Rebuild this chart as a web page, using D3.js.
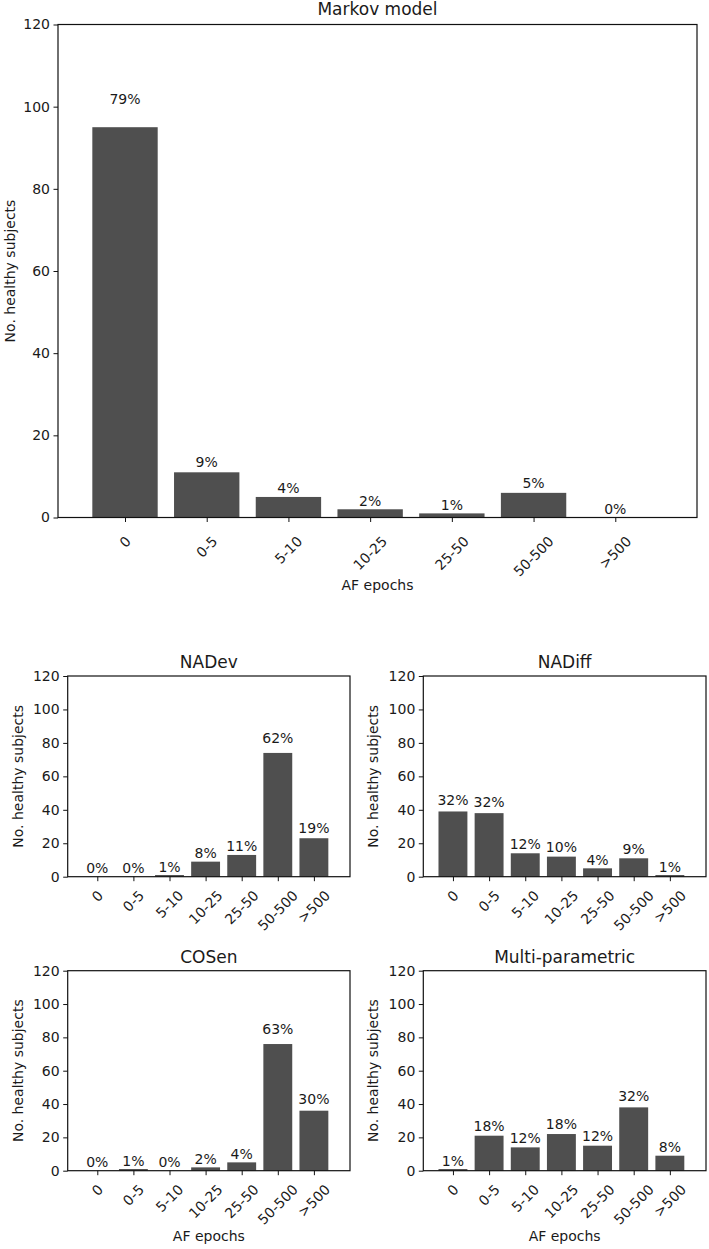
<!DOCTYPE html>
<html>
<head>
<meta charset="utf-8">
<script src="https://cdn.jsdelivr.net/npm/d3@7"></script>
<style>
  html, body { margin: 0; padding: 0; background: #fff; }
  svg { display: block; font-family: "DejaVu Sans", sans-serif; }
</style>
</head>
<body>
<svg id="chart" width="709" height="1249"></svg>
<script>
// ---- data ----
const categories = ["0", "0-5", "5-10", "10-25", "25-50", "50-500", ">500"];
const yTicks = [0, 20, 40, 60, 80, 100, 120];

const markovCounts = [95, 11, 5, 2, 1, 6, 0];
const markovPcts   = [79, 9, 4, 2, 1, 5, 0];

const nadevCounts = [0, 0, 1, 9, 13, 74, 23];
const nadevPcts   = [0, 0, 1, 8, 11, 62, 19];

const nadiffCounts = [39, 38, 14, 12, 5, 11, 1];
const nadiffPcts   = [32, 32, 12, 10, 4, 9, 1];

const cosenCounts = [0, 1, 0, 2, 5, 76, 36];
const cosenPcts   = [0, 1, 0, 2, 4, 63, 30];

const multiCounts = [1, 21, 14, 22, 15, 38, 9];
const multiPcts   = [1, 18, 12, 18, 12, 32, 8];

const titles = ["Markov model", "NADev", "NADiff", "COSen", "Multi-parametric"];
const yLabel = "No. healthy subjects";
const xLabel = "AF epochs";

// ---- layout ----
const panels = [
  { title: titles[0], counts: markovCounts, pcts: markovPcts,
    left: 58, right: 697, top: 24.5, bottom: 517.5,
    titleY: 15, ylabX: 10, xlabY: 590, showX: true, tickPad: 11 },
  { title: titles[1], counts: nadevCounts, pcts: nadevPcts,
    left: 67.7, right: 350, top: 676, bottom: 876.7,
    titleY: 668.3, ylabX: 18.3, showX: false, tickPad: 6 },
  { title: titles[2], counts: nadiffCounts, pcts: nadiffPcts,
    left: 423.3, right: 706, top: 676, bottom: 876.7,
    titleY: 668.3, ylabX: 373.3, showX: false, tickPad: 6 },
  { title: titles[3], counts: cosenCounts, pcts: cosenPcts,
    left: 67.7, right: 350, top: 970.7, bottom: 1170.7,
    titleY: 963.3, ylabX: 18.3, xlabY: 1240.5, showX: true, tickPad: 6 },
  { title: titles[4], counts: multiCounts, pcts: multiPcts,
    left: 423.3, right: 706, top: 970.7, bottom: 1170.7,
    titleY: 963.3, ylabX: 373.3, xlabY: 1240.5, showX: true, tickPad: 6 }
];

const svg = d3.select("#chart");
const txt = "#1a1a1a";
const barColor = "#4f4f4f";
const fs = 14;

panels.forEach(p => {
  const g = svg.append("g");
  const x = d3.scaleLinear().domain([-0.82, 7.0]).range([p.left, p.right]);
  const y = d3.scaleLinear().domain([0, 120]).range([p.bottom, p.top]);
  const bw = x(0.8) - x(0);

  // bars
  g.selectAll("rect.bar").data(p.counts).enter().append("rect")
    .attr("class", "bar")
    .attr("x", (d, i) => x(i) - bw / 2)
    .attr("width", bw)
    .attr("y", d => y(d))
    .attr("height", d => p.bottom - y(d))
    .attr("fill", barColor);

  // frame
  g.append("rect")
    .attr("x", p.left).attr("y", p.top)
    .attr("width", p.right - p.left).attr("height", p.bottom - p.top)
    .attr("fill", "none").attr("stroke", "#111").attr("stroke-width", 1.2);

  // y axis
  const yAxis = d3.axisLeft(y).tickValues(yTicks).tickSize(4.5).tickPadding(3.5);
  const ya = g.append("g").attr("transform", `translate(${p.left},0)`).call(yAxis);
  ya.select(".domain").remove();
  ya.selectAll("line").attr("stroke", "#111");
  ya.selectAll("text").attr("font-size", fs).attr("fill", txt)
    .attr("font-family", "DejaVu Sans");

  // x axis ticks
  const xAxis = d3.axisBottom(x).tickValues(d3.range(categories.length))
    .tickSize(4.5).tickFormat("");
  const xa = g.append("g").attr("transform", `translate(0,${p.bottom})`).call(xAxis);
  xa.select(".domain").remove();
  xa.selectAll("line").attr("stroke", "#111");

  // rotated x tick labels
  categories.forEach((c, i) => {
    const t = g.append("text").text(c)
      .attr("font-size", fs).attr("fill", txt)
      .attr("text-anchor", "middle")
      .attr("dominant-baseline", "central");
    const w = t.node().getComputedTextLength();
    const h = fs * 1.164;
    const bh = (w + h) * Math.SQRT1_2;
    const cx = x(i), cy = p.bottom + 4.5 + p.tickPad + bh / 2;
    t.attr("transform", `translate(${cx},${cy}) rotate(-45)`);
  });

  // percentage labels
  g.selectAll("text.pct").data(p.counts).enter().append("text")
    .attr("class", "pct")
    .attr("x", (d, i) => x(i))
    .attr("y", d => y(d * 1.05) - fs * 0.236)
    .attr("text-anchor", "middle")
    .attr("font-size", fs).attr("fill", txt)
    .text((d, i) => p.pcts[i] + "%");

  // title
  g.append("text").attr("x", (p.left + p.right) / 2).attr("y", p.titleY)
    .attr("text-anchor", "middle").attr("font-size", 17).attr("fill", txt)
    .text(p.title);

  // y label
  g.append("text")
    .attr("transform", `translate(${p.ylabX},${(p.top + p.bottom) / 2}) rotate(-90)`)
    .attr("text-anchor", "middle").attr("dominant-baseline", "central")
    .attr("font-size", fs).attr("fill", txt)
    .text(yLabel);

  // x label
  if (p.showX) {
    g.append("text").attr("x", (p.left + p.right) / 2).attr("y", p.xlabY)
      .attr("text-anchor", "middle").attr("font-size", fs).attr("fill", txt)
      .text(xLabel);
  }
});
</script>
</body>
</html>
